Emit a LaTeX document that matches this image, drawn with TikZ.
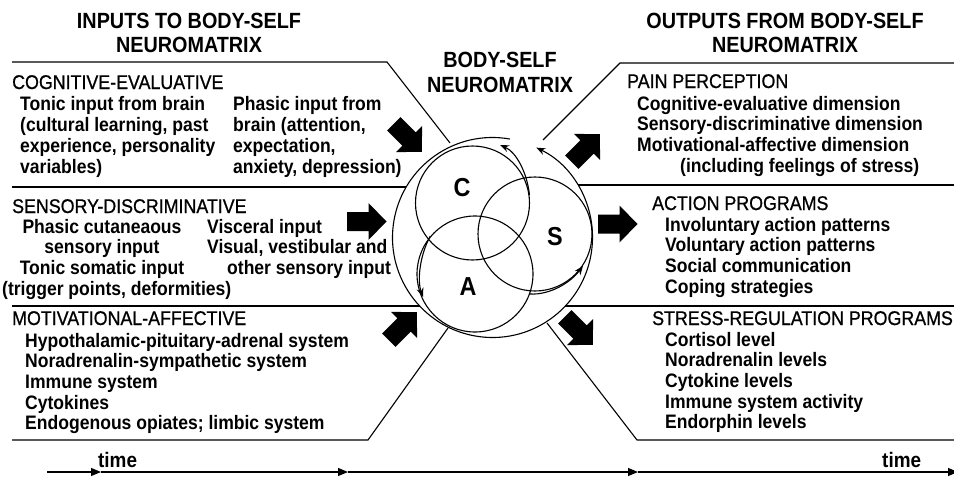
\documentclass[tikz,border=0pt]{standalone}
\usepackage{fontspec}
\setmainfont{Liberation Sans}[FakeStretch=0.9]
\newfontfamily\headfont{Liberation Sans}[FakeStretch=0.9, FakeBold=0.8]
\usepackage{tikz}
\usetikzlibrary{arrows.meta, positioning, calc}

\tikzset{
  frameline/.style={line width=1.1pt},
  ring/.style={circle, draw, line width=1.1pt, inner sep=0pt},
  maintitle/.style={font=\bfseries\fontsize{22}{24.2}\selectfont, align=center, inner sep=0pt, anchor=base},
  heading/.style={font=\headfont\fontsize{19.8}{20.7}\selectfont, inner sep=0pt, anchor=base west},
  items/.style={font=\bfseries\fontsize{19.5}{20.7}\selectfont, align=left, inner sep=0pt, anchor=base west},
  letter/.style={font=\bfseries\fontsize{26}{26}\selectfont, inner sep=0pt},
  timelabel/.style={font=\bfseries\fontsize{21}{21}\selectfont, inner sep=0pt, anchor=base west},
  timearrow/.style={-{Triangle[length=10pt, width=8pt]}, line width=1.1pt},
  cyclearrow/.style={-{Stealth[length=9pt, width=7pt]}, line width=1.1pt},
  fatarrow/.pic={\fill (-20,-9.5) -- (1.5,-9.5) -- (1.5,-18.5) -- (19.5,0) -- (1.5,18.5) -- (1.5,9.5) -- (-20,9.5) -- cycle;}
}

\begin{document}
\begin{tikzpicture}[x=1pt, y=-1pt]
\useasboundingbox (0,0) rectangle (954,479);

% Titles (multi-line nodes sit on their last baseline)
\node[maintitle] (inTitle) at (189,52.5) {INPUTS TO BODY-SELF\\NEUROMATRIX};
\node[maintitle] (midTitle) at (500,92) {BODY-SELF\\NEUROMATRIX};
\node[maintitle] (outTitle) at (785,52.5) {OUTPUTS FROM BODY-SELF\\NEUROMATRIX};

% Frame lines
\draw[frameline] (12,62) -- (387,62) -- (450,143);
\draw[frameline] (12,187) -- (406,187);
\draw[frameline] (12,306) -- (420,306);
\draw[frameline] (12,440) -- (368,440) -- (448,328);
\draw[frameline] (956,63) -- (620,63) -- (543,140);
\draw[frameline] (578,185) -- (956,185);
\draw[frameline] (565,306) -- (956,306);
\draw[frameline] (956,440) -- (637,440) -- (547,323);

% Neuromatrix
\coordinate (hub) at (492.5,237.5);
\draw[cyclearrow] (hub) ++(-80:100) arc[start angle=-80, end angle=-424, radius=100];
\node[ring, minimum size=114pt] (cogC) at (472.5,203) {};
\node[ring, minimum size=114pt] (senC) at (535,234) {};
\node[ring, minimum size=116pt] (motC) at (475,274) {};
\node[letter] (cLetter) at (462,188) {C};
\node[letter] (sLetter) at (555,237) {S};
\node[letter] (aLetter) at (468,287) {A};

% Loop arrows
\coordinate (topTip) at (500,145);
\coordinate (leftTip) at (423,297);
\coordinate (rightTip) at (583,266);
\draw[cyclearrow] (cogC.8) .. controls (527,172) and (516,152) .. (topTip);
\draw[cyclearrow] (motC.140) .. controls (420,255) and (417,280) .. (leftTip);
\draw[cyclearrow] (motC.-20) .. controls (550,295) and (570,283) .. (rightTip);

% Input and output arrows
\pic at (367,221.5) {fatarrow};
\pic at (618,224) {fatarrow};
\pic[rotate=-45] at (408,138) {fatarrow};
\pic[rotate=45] at (403,326) {fatarrow};
\pic[rotate=45] at (586,148) {fatarrow};
\pic[rotate=-45] at (579,331) {fatarrow};

% Inputs
\node[heading] (cogHead) at (12,89) {COGNITIVE-EVALUATIVE};
\node[items] (cogTonic) at (20,173) {Tonic input from brain\\(cultural learning, past\\experience, personality\\variables)};
\node[items] (cogPhasic) at (233,173) {Phasic input from\\brain (attention,\\expectation,\\anxiety, depression)};

\node[heading] (senHead) at (12,213) {SENSORY-DISCRIMINATIVE};
\node[items, align=center, anchor=base] (senSkin) at (102,274.4) {Phasic cutaneaous\\sensory input\\Tonic somatic input};
\node[items] (senTrig) at (2,295) {(trigger points, deformities)};
\node[items] (senVisc) at (207,274.4) {Visceral input\\Visual, vestibular and\\\hspace*{20pt}other sensory input};

\node[heading] (motHead) at (12,325) {MOTIVATIONAL-AFFECTIVE};
\node[items] (motList) at (25,429.8) {Hypothalamic-pituitary-adrenal system\\Noradrenalin-sympathetic system\\Immune system\\Cytokines\\Endogenous opiates; limbic system};

% Outputs
\node[heading] (painHead) at (627,88) {PAIN PERCEPTION};
\node[items] (painList) at (637,151.4) {Cognitive-evaluative dimension\\Sensory-discriminative dimension\\Motivational-affective dimension};
\node[items] (painNote) at (680,172) {(including feelings of stress)};

\node[heading] (actHead) at (652,210) {ACTION PROGRAMS};
\node[items] (actList) at (665,293.1) {Involuntary action patterns\\Voluntary action patterns\\Social communication\\Coping strategies};

\node[heading] (strHead) at (652,325) {STRESS-REGULATION PROGRAMS};
\node[items] (strList) at (665,428.8) {Cortisol level\\Noradrenalin levels\\Cytokine levels\\Immune system activity\\Endorphin levels};

% Time axis
\coordinate (t0) at (47,472);
\coordinate (t1) at (101,472);
\coordinate (t2) at (348,472);
\coordinate (t3) at (638,472);
\coordinate (t4) at (958,472);
\draw[timearrow] (t0) -- (t1);
\draw[timearrow] (t1) -- (t2);
\draw[timearrow] (t2) -- (t3);
\draw[timearrow] (t3) -- (t4);
\node[timelabel] (timeL) at (98,467) {time};
\node[timelabel] (timeR) at (882,467) {time};

\end{tikzpicture}
\end{document}
